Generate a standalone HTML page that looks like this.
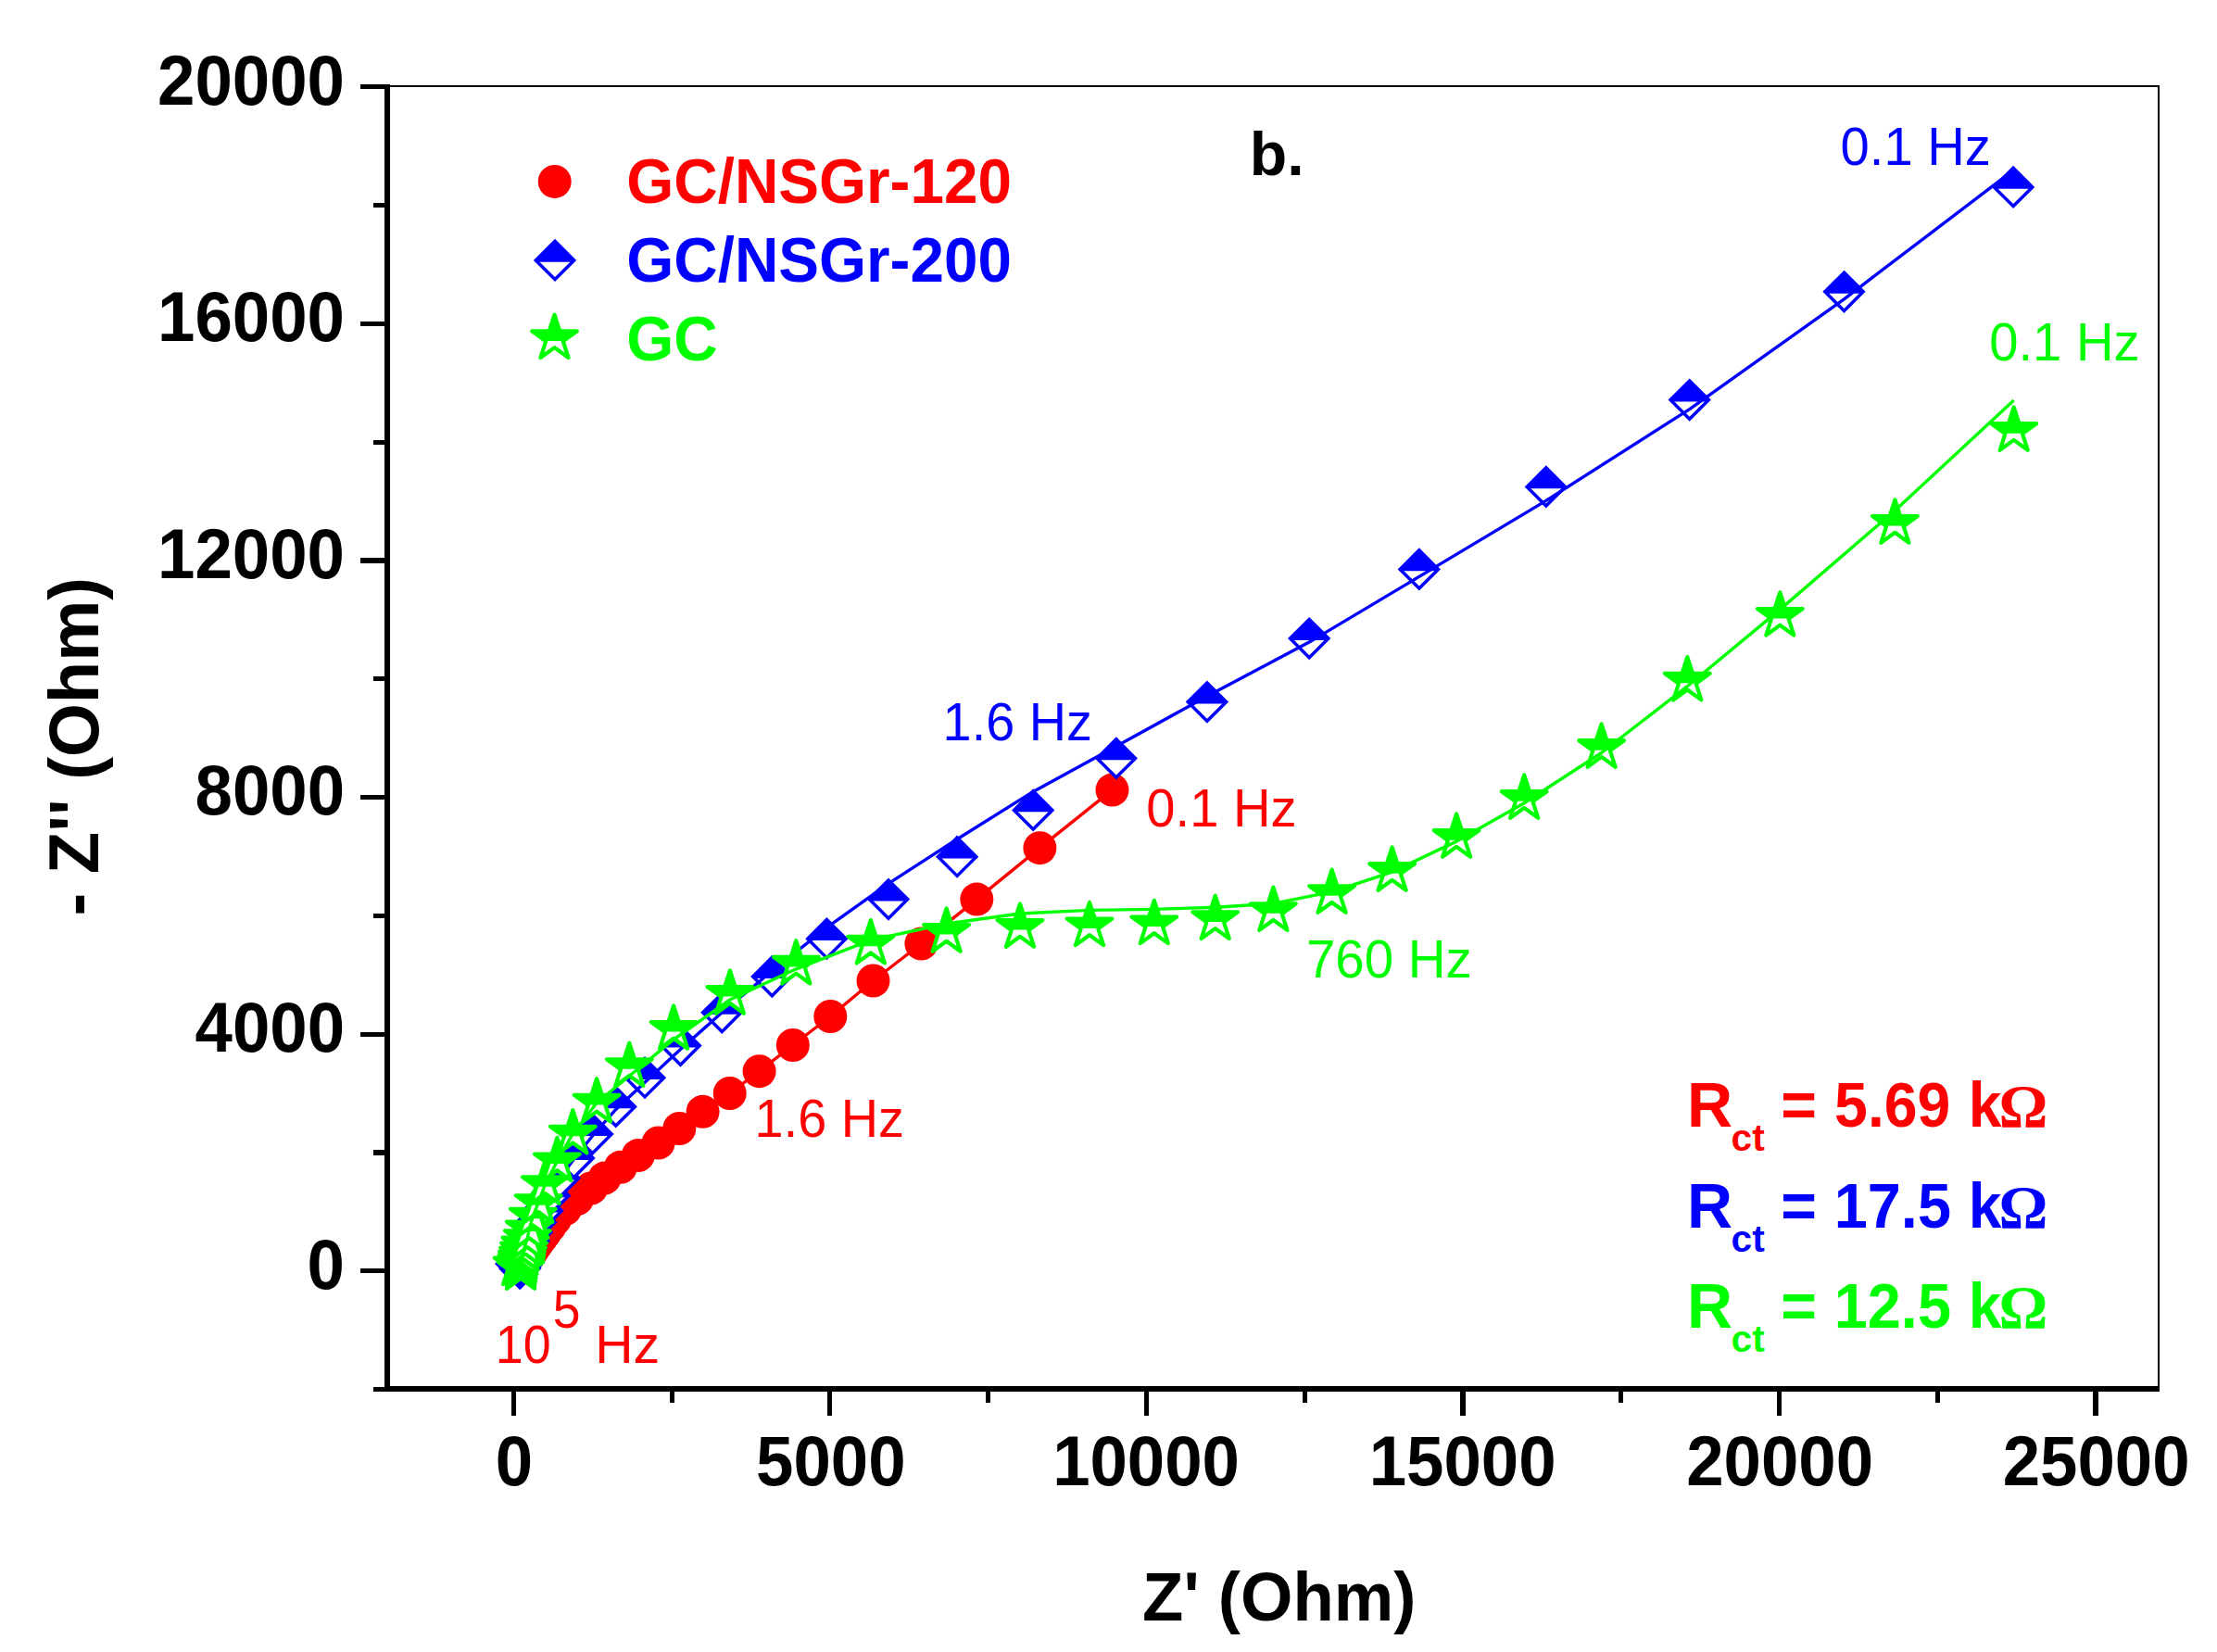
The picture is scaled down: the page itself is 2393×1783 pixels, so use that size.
<!DOCTYPE html>
<html lang="en"><head><meta charset="utf-8"><title>Nyquist plot b.</title>
<style>
html,body{margin:0;padding:0;background:#fff;}
body{width:2393px;height:1783px;overflow:hidden;}
svg{display:block;}
text{font-family:"Liberation Sans",Arial,Helvetica,sans-serif;}
.b{font-weight:bold;}
.om{font-family:"Liberation Serif","DejaVu Serif",serif;font-weight:bold;}
</style></head><body>
<svg width="2393" height="1783" viewBox="0 0 2393 1783">
<rect x="0" y="0" width="2393" height="1783" fill="#ffffff"/>
<defs>
<clipPath id="topHalf"><rect x="-40" y="-40" width="80" height="42.6"/></clipPath><clipPath id="topHalfD"><rect x="-40" y="-40" width="80" height="41.9"/></clipPath>
<g id="mS"><path d="M0.00,-25.60 L5.75,-7.91 L24.35,-7.91 L9.30,3.02 L15.05,20.71 L0.00,9.78 L-15.05,20.71 L-9.30,3.02 L-24.35,-7.91 L-5.75,-7.91Z" fill="#ffffff" stroke="none"/><path d="M0.00,-25.60 L5.75,-7.91 L24.35,-7.91 L9.30,3.02 L15.05,20.71 L0.00,9.78 L-15.05,20.71 L-9.30,3.02 L-24.35,-7.91 L-5.75,-7.91Z" fill="#00ff00" stroke="none" clip-path="url(#topHalf)"/><path d="M0.00,-25.60 L5.75,-7.91 L24.35,-7.91 L9.30,3.02 L15.05,20.71 L0.00,9.78 L-15.05,20.71 L-9.30,3.02 L-24.35,-7.91 L-5.75,-7.91Z" fill="none" stroke="#00ff00" stroke-width="4.2" stroke-linejoin="round"/></g>
<g id="mD"><path d="M0,-20.7 L20.7,0 L0,20.7 L-20.7,0Z" fill="#ffffff" stroke="none"/><path d="M0,-20.7 L20.7,0 L0,20.7 L-20.7,0Z" fill="#0000ff" stroke="none" clip-path="url(#topHalfD)"/><path d="M0,-20.7 L20.7,0 L0,20.7 L-20.7,0Z" fill="none" stroke="#0000ff" stroke-width="3.5" stroke-linejoin="miter"/></g>
<circle id="mC" r="18.0" fill="#ff0000"/>
</defs>
<g stroke="#000" fill="none" shape-rendering="crispEdges">
<line x1="418" y1="93" x2="2331" y2="93" stroke-width="2.0"/>
<line x1="2330" y1="93" x2="2330" y2="1501.6" stroke-width="2.0"/>
<line x1="418" y1="90.6" x2="418" y2="1501.6" stroke-width="5.6"/>
<line x1="415.2" y1="1498.8" x2="2331" y2="1498.8" stroke-width="5.6"/>
<line x1="402.6" y1="1499.5" x2="416.2" y2="1499.5" stroke-width="5.2"/>
<line x1="388.9" y1="1371.7" x2="416.2" y2="1371.7" stroke-width="5.2"/>
<line x1="402.6" y1="1243.9" x2="416.2" y2="1243.9" stroke-width="5.2"/>
<line x1="388.9" y1="1116.1" x2="416.2" y2="1116.1" stroke-width="5.2"/>
<line x1="402.6" y1="988.3" x2="416.2" y2="988.3" stroke-width="5.2"/>
<line x1="388.9" y1="860.5" x2="416.2" y2="860.5" stroke-width="5.2"/>
<line x1="402.6" y1="732.7" x2="416.2" y2="732.7" stroke-width="5.2"/>
<line x1="388.9" y1="604.9" x2="416.2" y2="604.9" stroke-width="5.2"/>
<line x1="402.6" y1="477.1" x2="416.2" y2="477.1" stroke-width="5.2"/>
<line x1="388.9" y1="349.3" x2="416.2" y2="349.3" stroke-width="5.2"/>
<line x1="402.6" y1="221.5" x2="416.2" y2="221.5" stroke-width="5.2"/>
<line x1="388.9" y1="93.7" x2="416.2" y2="93.7" stroke-width="5.2"/>
<line x1="554.3" y1="1500.6" x2="554.3" y2="1527.9" stroke-width="5.2"/>
<line x1="725.1" y1="1500.6" x2="725.1" y2="1514.2" stroke-width="5.2"/>
<line x1="895.8" y1="1500.6" x2="895.8" y2="1527.9" stroke-width="5.2"/>
<line x1="1066.6" y1="1500.6" x2="1066.6" y2="1514.2" stroke-width="5.2"/>
<line x1="1237.4" y1="1500.6" x2="1237.4" y2="1527.9" stroke-width="5.2"/>
<line x1="1408.2" y1="1500.6" x2="1408.2" y2="1514.2" stroke-width="5.2"/>
<line x1="1578.9" y1="1500.6" x2="1578.9" y2="1527.9" stroke-width="5.2"/>
<line x1="1749.7" y1="1500.6" x2="1749.7" y2="1514.2" stroke-width="5.2"/>
<line x1="1920.5" y1="1500.6" x2="1920.5" y2="1527.9" stroke-width="5.2"/>
<line x1="2091.2" y1="1500.6" x2="2091.2" y2="1514.2" stroke-width="5.2"/>
<line x1="2262" y1="1500.6" x2="2262" y2="1527.9" stroke-width="5.2"/>
</g>
<text class="b" transform="translate(331.61,1390.60) scale(0.9630,1)" font-size="75.4" fill="#000">0</text>
<text class="b" transform="translate(210.53,1135.00) scale(0.9630,1)" font-size="75.4" fill="#000">4000</text>
<text class="b" transform="translate(210.53,879.40) scale(0.9630,1)" font-size="75.4" fill="#000">8000</text>
<text class="b" transform="translate(170.05,623.80) scale(0.9630,1)" font-size="75.4" fill="#000">12000</text>
<text class="b" transform="translate(170.05,368.20) scale(0.9630,1)" font-size="75.4" fill="#000">16000</text>
<text class="b" transform="translate(170.05,112.60) scale(0.9630,1)" font-size="75.4" fill="#000">20000</text>
<text class="b" transform="translate(534.65,1602.70) scale(0.9630,1)" font-size="75.4" fill="#000">0</text>
<text class="b" transform="translate(816.01,1602.70) scale(0.9630,1)" font-size="75.4" fill="#000">5000</text>
<text class="b" transform="translate(1136.13,1602.70) scale(0.9630,1)" font-size="75.4" fill="#000">10000</text>
<text class="b" transform="translate(1477.67,1602.70) scale(0.9630,1)" font-size="75.4" fill="#000">15000</text>
<text class="b" transform="translate(1820.21,1602.70) scale(0.9630,1)" font-size="75.4" fill="#000">20000</text>
<text class="b" transform="translate(2161.75,1602.70) scale(0.9630,1)" font-size="75.4" fill="#000">25000</text>
<text class="b" transform="translate(1233.12,1748.70) scale(0.9835,1)" font-size="73.8" fill="#000">Z' (Ohm)</text>
<text class="b" transform="translate(105.6,988.57) rotate(-90) scale(0.9754,1)" font-size="76.2" fill="#000">- Z'' (Ohm)</text>
<g id="series-red">
<use href="#mC" x="562" y="1368.4"/>
<use href="#mC" x="562.1" y="1368.3"/>
<use href="#mC" x="562.3" y="1368.1"/>
<use href="#mC" x="562.4" y="1367.8"/>
<use href="#mC" x="562.6" y="1367.6"/>
<use href="#mC" x="562.7" y="1367.2"/>
<use href="#mC" x="563" y="1366.9"/>
<use href="#mC" x="563.2" y="1366.5"/>
<use href="#mC" x="563.5" y="1366"/>
<use href="#mC" x="563.9" y="1365.4"/>
<use href="#mC" x="564.3" y="1364.7"/>
<use href="#mC" x="564.8" y="1363.9"/>
<use href="#mC" x="565.4" y="1363"/>
<use href="#mC" x="566" y="1362"/>
<use href="#mC" x="566.8" y="1360.7"/>
<use href="#mC" x="567.8" y="1359.3"/>
<use href="#mC" x="568.9" y="1357.7"/>
<use href="#mC" x="570.2" y="1355.7"/>
<use href="#mC" x="571.7" y="1353.5"/>
<use href="#mC" x="573.5" y="1350.9"/>
<use href="#mC" x="575.6" y="1347.9"/>
<use href="#mC" x="578.1" y="1344.3"/>
<use href="#mC" x="581.1" y="1340.2"/>
<use href="#mC" x="584.5" y="1335.5"/>
<use href="#mC" x="588.6" y="1329.9"/>
<use href="#mC" x="593.4" y="1323.5"/>
<use href="#mC" x="599" y="1316"/>
<use href="#mC" x="610" y="1305"/>
<use href="#mC" x="623" y="1294"/>
<use href="#mC" x="638" y="1282.5"/>
<use href="#mC" x="652.5" y="1271.6"/>
<use href="#mC" x="669.8" y="1259.8"/>
<use href="#mC" x="688.8" y="1247.1"/>
<use href="#mC" x="710.6" y="1233.5"/>
<use href="#mC" x="733.3" y="1218"/>
<use href="#mC" x="758.6" y="1199.8"/>
<use href="#mC" x="787.7" y="1180"/>
<use href="#mC" x="819.6" y="1156.2"/>
<use href="#mC" x="855.8" y="1128"/>
<use href="#mC" x="896.3" y="1097"/>
<use href="#mC" x="942.5" y="1058.5"/>
<use href="#mC" x="994.4" y="1018.5"/>
<use href="#mC" x="1054.3" y="970.6"/>
<use href="#mC" x="1122.4" y="915.2"/>
<use href="#mC" x="1200.5" y="852.6"/>
<polyline points="1200.5,852.6 1122.4,915.2 1054.3,970.6 994.4,1018.5 942.5,1058.5 896.3,1097 855.8,1128 819.6,1156.2 787.7,1180 758.6,1199.8 733.3,1218 710.6,1233.5 688.8,1247.1 669.8,1259.8 652.5,1271.6 638,1282.5 623,1294 610,1305 599,1316 593.4,1323.5 588.6,1329.9 584.5,1335.5 581.1,1340.2 578.1,1344.3 575.6,1347.9 573.5,1350.9 571.7,1353.5 570.2,1355.7 568.9,1357.7 567.8,1359.3 566.8,1360.7 566,1362 565.4,1363 564.8,1363.9 564.3,1364.7 563.9,1365.4 563.5,1366 563.2,1366.5 563,1366.9 562.7,1367.2 562.6,1367.6 562.4,1367.8 562.3,1368.1 562.1,1368.3 562,1368.4" fill="none" stroke="#ff0000" stroke-width="3.4" stroke-linejoin="round"/>
</g>
<g id="series-blue">
<use href="#mD" x="561.2" y="1369.2"/>
<use href="#mD" x="561.5" y="1368"/>
<use href="#mD" x="557.2" y="1364"/>
<use href="#mD" x="562.5" y="1365.5"/>
<use href="#mD" x="563.5" y="1362"/>
<use href="#mD" x="564.5" y="1358"/>
<use href="#mD" x="566" y="1353"/>
<use href="#mD" x="568.2" y="1347.1"/>
<use href="#mD" x="571.2" y="1339.2"/>
<use href="#mD" x="574.2" y="1330.1"/>
<use href="#mD" x="578.5" y="1319.2"/>
<use href="#mD" x="585.7" y="1306.7"/>
<use href="#mD" x="593.3" y="1290.4"/>
<use href="#mD" x="604" y="1271.5"/>
<use href="#mD" x="619.5" y="1250"/>
<use href="#mD" x="639.5" y="1224"/>
<use href="#mD" x="664.7" y="1194.4"/>
<use href="#mD" x="696" y="1163.2"/>
<use href="#mD" x="734.5" y="1128.6"/>
<use href="#mD" x="779.3" y="1092.8"/>
<use href="#mD" x="833.3" y="1054"/>
<use href="#mD" x="892.4" y="1013.2"/>
<use href="#mD" x="959" y="970.6"/>
<use href="#mD" x="1033.1" y="924.7"/>
<use href="#mD" x="1115.2" y="874.4"/>
<use href="#mD" x="1204.8" y="818.4"/>
<use href="#mD" x="1302.9" y="757.6"/>
<use href="#mD" x="1413.2" y="689.1"/>
<use href="#mD" x="1531.8" y="614.4"/>
<use href="#mD" x="1668.8" y="525.4"/>
<use href="#mD" x="1823.7" y="431.6"/>
<use href="#mD" x="1990.5" y="314.8"/>
<use href="#mD" x="2173.1" y="201.9"/>
<polyline points="2173.1,183.9 1990.5,322.8 1823.7,441.6 1668.8,540.4 1531.8,622.4 1413.2,693.1 1302.9,751.6 1204.8,805.4 1115.2,854.4 1033.1,905.7 959,953.6 892.4,1001.2 833.3,1048 779.3,1092.8 734.5,1132.6 696,1168.2 664.7,1197.4 639.5,1226 619.5,1251 604,1271.5 593.3,1290.4 585.7,1306.7 578.5,1319.2 574.2,1330.1 571.2,1339.2 568.2,1347.1 566,1353 564.5,1358 563.5,1362 562.5,1365.5 557.2,1364 561.5,1368 561.2,1369.2" fill="none" stroke="#0000ff" stroke-width="3.4" stroke-linejoin="round"/>
</g>
<g id="series-green">
<use href="#mS" x="562" y="1370"/>
<use href="#mS" x="562" y="1367.5"/>
<use href="#mS" x="558.1" y="1365.4"/>
<use href="#mS" x="562.5" y="1365"/>
<use href="#mS" x="563" y="1362"/>
<use href="#mS" x="563.5" y="1358.5"/>
<use href="#mS" x="564.5" y="1354.5"/>
<use href="#mS" x="565.5" y="1349.5"/>
<use href="#mS" x="566.9" y="1343.6"/>
<use href="#mS" x="569.3" y="1336.3"/>
<use href="#mS" x="571.2" y="1326.5"/>
<use href="#mS" x="575.3" y="1312.7"/>
<use href="#mS" x="581.2" y="1298.2"/>
<use href="#mS" x="588.4" y="1278.2"/>
<use href="#mS" x="601.4" y="1253.4"/>
<use href="#mS" x="618.3" y="1223.7"/>
<use href="#mS" x="644.1" y="1189.8"/>
<use href="#mS" x="679.3" y="1151.2"/>
<use href="#mS" x="727.1" y="1111"/>
<use href="#mS" x="787.9" y="1073"/>
<use href="#mS" x="859.3" y="1040.8"/>
<use href="#mS" x="939.8" y="1018.7"/>
<use href="#mS" x="1021.6" y="1006"/>
<use href="#mS" x="1101" y="1001"/>
<use href="#mS" x="1176" y="999.4"/>
<use href="#mS" x="1245.8" y="997.4"/>
<use href="#mS" x="1311.7" y="992.3"/>
<use href="#mS" x="1374.4" y="983.2"/>
<use href="#mS" x="1437.6" y="964.2"/>
<use href="#mS" x="1502.6" y="940.1"/>
<use href="#mS" x="1572.1" y="904.1"/>
<use href="#mS" x="1645.2" y="862.1"/>
<use href="#mS" x="1728.6" y="807.1"/>
<use href="#mS" x="1821.3" y="734.7"/>
<use href="#mS" x="1921.3" y="664.9"/>
<use href="#mS" x="2045.4" y="565"/>
<use href="#mS" x="2173.7" y="465.1"/>
<polyline points="2173.7,432.1 2045.4,551 1921.3,657.9 1821.3,740.7 1728.6,812.5 1645.2,866.7 1572.1,908.1 1502.6,941.1 1437.6,962.7 1374.4,975.2 1311.7,979.3 1245.8,981.4 1176,982.4 1101,986 1021.6,997 939.8,1014.7 859.3,1045.8 787.9,1079 727.1,1122 679.3,1161.2 644.1,1190.3 618.3,1223.7 601.4,1253.4 588.4,1278.2 581.2,1298.2 575.3,1312.7 571.2,1326.5 569.3,1336.3 566.9,1343.6 565.5,1349.5 564.5,1354.5 563.5,1358.5 563,1362 562.5,1365 558.1,1365.4 562,1367.5 562,1370" fill="none" stroke="#00ff00" stroke-width="3.4" stroke-linejoin="round"/>
</g>
<use href="#mC" x="598.7" y="195.9"/>
<use href="#mD" x="599" y="280.9"/>
<use href="#mS" x="598.5" y="365.3"/>
<text class="b" transform="translate(676.28,218.70) scale(0.9468,1)" font-size="69.3" fill="#ff0000">GC/NSGr-120</text>
<text class="b" transform="translate(676.28,303.90) scale(0.9468,1)" font-size="69.3" fill="#0000ff">GC/NSGr-200</text>
<text class="b" transform="translate(676.28,388.90) scale(0.9468,1)" font-size="69.3" fill="#00ff00">GC</text>
<text class="b" transform="translate(1348.70,188.90) scale(1.0019,1)" font-size="66.1" fill="#000">b.</text>
<text  transform="translate(1986.55,178.00) scale(0.9669,1)" font-size="58.1" fill="#0000ff">0.1 Hz</text>
<text  transform="translate(2147.25,388.70) scale(0.9675,1)" font-size="58.1" fill="#00ff00">0.1 Hz</text>
<text  transform="translate(1237.35,892.10) scale(0.9669,1)" font-size="58.1" fill="#ff0000">0.1 Hz</text>
<text  transform="translate(1017.61,799.10) scale(0.9611,1)" font-size="58.1" fill="#0000ff">1.6 Hz</text>
<text  transform="translate(814.61,1227.00) scale(0.9611,1)" font-size="58.1" fill="#ff0000">1.6 Hz</text>
<text  transform="translate(1409.93,1054.90) scale(0.9721,1)" font-size="58.1" fill="#00ff00">760 Hz</text>
<text  transform="translate(534.76,1470.90) scale(0.9266,1)" font-size="58.1" fill="#ff0000">10</text>
<text  transform="translate(596.66,1432.50) scale(0.9204,1)" font-size="58.1" fill="#ff0000">5</text>
<text  transform="translate(642.18,1470.90) scale(0.9853,1)" font-size="58.1" fill="#ff0000">Hz</text>
<text class="b" transform="translate(1821.11,1215.90) scale(0.9839,1)" font-size="69.1" fill="#ff0000">R</text>
<text class="b" transform="translate(1868.57,1242.30) scale(1.0180,1)" font-size="40" fill="#ff0000">ct</text>
<text class="b" transform="translate(1922.19,1215.90) scale(0.9580,1)" font-size="69.1" fill="#ff0000">=</text>
<text class="b" transform="translate(1980.07,1215.90) scale(0.9322,1)" font-size="69.1" fill="#ff0000">5.69</text>
<text class="b" transform="translate(2124.71,1215.90) scale(0.9292,1)" font-size="69.1" fill="#ff0000">k</text>
<text class="om" transform="translate(2157.53,1216.30) scale(1.0010,1)" font-size="65.9" fill="#ff0000">Ω</text>
<text class="b" transform="translate(1821.11,1324.50) scale(0.9839,1)" font-size="69.1" fill="#0000ff">R</text>
<text class="b" transform="translate(1868.57,1350.90) scale(1.0180,1)" font-size="40" fill="#0000ff">ct</text>
<text class="b" transform="translate(1922.19,1324.50) scale(0.9580,1)" font-size="69.1" fill="#0000ff">=</text>
<text class="b" transform="translate(1979.75,1324.50) scale(0.9385,1)" font-size="69.1" fill="#0000ff">17.5</text>
<text class="b" transform="translate(2124.71,1324.50) scale(0.9292,1)" font-size="69.1" fill="#0000ff">k</text>
<text class="om" transform="translate(2157.53,1324.90) scale(1.0010,1)" font-size="65.9" fill="#0000ff">Ω</text>
<text class="b" transform="translate(1821.11,1433.00) scale(0.9839,1)" font-size="69.1" fill="#00ff00">R</text>
<text class="b" transform="translate(1868.57,1459.40) scale(1.0180,1)" font-size="40" fill="#00ff00">ct</text>
<text class="b" transform="translate(1922.19,1433.00) scale(0.9580,1)" font-size="69.1" fill="#00ff00">=</text>
<text class="b" transform="translate(1979.75,1433.00) scale(0.9385,1)" font-size="69.1" fill="#00ff00">12.5</text>
<text class="b" transform="translate(2124.71,1433.00) scale(0.9292,1)" font-size="69.1" fill="#00ff00">k</text>
<text class="om" transform="translate(2157.53,1433.40) scale(1.0010,1)" font-size="65.9" fill="#00ff00">Ω</text>
</svg>
</body></html>
